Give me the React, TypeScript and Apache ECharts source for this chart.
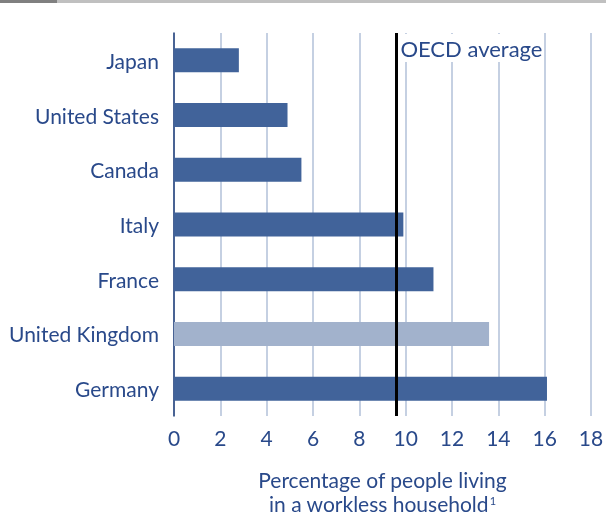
import React, { useEffect, useRef } from "react";
import * as echarts from "echarts";

const countries = ["Japan", "United States", "Canada", "Italy", "France", "United Kingdom", "Germany"];
const values = [2.8, 4.9, 5.5, 9.9, 11.2, 13.6, 16.1];
const highlighted = ["United Kingdom"];
const oecdAverage = 9.6;
const oecdLabel = "OECD average";
const xTicks = { min: 0, max: 18, interval: 2 };

const NAVY = "#29498a";
const BAR = "#41639a";
const BAR_LIGHT = "#a2b2cc";
const FONT = "Lato, 'Noto Sans', sans-serif";

export default function App() {
  const ref = useRef<HTMLDivElement>(null);
  useEffect(() => {
    if (!ref.current) return;
    const chart = echarts.init(ref.current, null, { renderer: "svg" });
    chart.setOption({
      animation: false,
      textStyle: { fontFamily: FONT },
      grid: { left: 174, right: 15, top: 33, height: 383, containLabel: false, outerBoundsMode: "none" },
      xAxis: {
        type: "value",
        min: xTicks.min,
        max: xTicks.max,
        interval: xTicks.interval,
        axisLine: { show: false },
        axisTick: { show: false },
        splitLine: { show: true, lineStyle: { color: "#c5d0e2", width: 2 } },
        axisLabel: { color: NAVY, fontSize: 21, margin: 11, fontFamily: FONT },
        name: "Percentage of people living\nin a workless household{sup|1}",
        nameLocation: "middle",
        nameGap: 51,
        nameTextStyle: {
          color: NAVY,
          fontSize: 21,
          lineHeight: 24,
          fontFamily: FONT,
          rich: {
            sup: { fontSize: 11, verticalAlign: "top", lineHeight: 12, color: NAVY, padding: [4, 0, 0, 1] },
          },
        },
      },
      yAxis: {
        type: "category",
        data: countries,
        inverse: true,
        axisLine: { show: true, lineStyle: { color: "#1f3f7a", width: 1.5 } },
        axisTick: { show: false },
        axisLabel: { color: NAVY, fontSize: 21, margin: 15, fontFamily: FONT },
      },
      series: [
        {
          type: "bar",
          barWidth: 24,
          data: values.map((v, i) => ({
            value: v,
            itemStyle: { color: highlighted.includes(countries[i]) ? BAR_LIGHT : BAR },
          })),
          markLine: {
            silent: true,
            symbol: ["none", "none"],
            label: { show: false },
            lineStyle: { color: "#000", width: 3, type: "solid" },
            data: [{ xAxis: oecdAverage }],
          },
        },
      ],
    });
    const [px] = chart.convertToPixel({ xAxisIndex: 0, yAxisIndex: 0 }, [oecdAverage, 0]) as number[];
    chart.setOption({
      graphic: [
        { type: "rect", left: 0, top: 0, shape: { width: 606, height: 3 }, style: { fill: "#c0c0c0" } },
        { type: "rect", left: 0, top: 0, shape: { width: 57, height: 3 }, style: { fill: "#808080" } },
        {
          type: "text",
          x: px + 4,
          y: 48,
          z: 10,
          style: {
            text: oecdLabel,
            fill: NAVY,
            font: `22px ${FONT}`,
            verticalAlign: "middle",
            backgroundColor: "#fff",
            padding: [3, 0, 3, 0],
          },
        },
      ],
    });
    return () => chart.dispose();
  }, []);
  return <div ref={ref} style={{ position: "fixed", left: 0, top: 0, width: 606, height: 516 }} />;
}
